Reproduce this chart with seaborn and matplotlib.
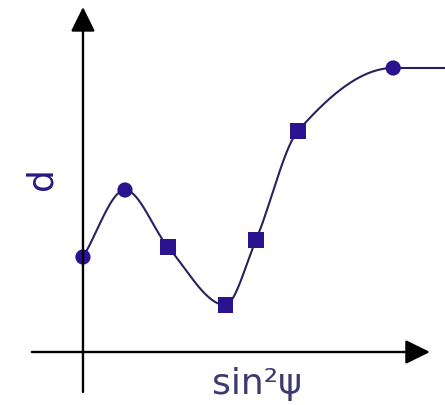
import numpy as np
import pandas as pd
import matplotlib
matplotlib.use("Agg")
import matplotlib.pyplot as plt
import seaborn as sns

# Measured lattice spacing d against sin^2(psi)
sin2psi = [0.0, 0.12, 0.243, 0.406, 0.494, 0.614, 0.886]
d_spacing = [0.95, 1.62, 1.05, 0.47, 1.12, 2.21, 2.84]
point_kind = ["circle", "circle", "square", "square", "square", "square", "circle"]

x_label = "sin²ψ"
y_label = "d"

MARKER_COLOR = "#2b1390"
LINE_COLOR = "#27235a"
LABEL_COLOR = "#2a1a80"
XLABEL_COLOR = "#3c3a6e"


def pchip(x, y, xs, start_slope=None, end_slope=None):
    """Shape-preserving piecewise cubic Hermite interpolation."""
    x = np.asarray(x, float)
    y = np.asarray(y, float)
    h = np.diff(x)
    delta = np.diff(y) / h
    n = len(x)
    m = np.zeros(n)
    for k in range(1, n - 1):
        if delta[k - 1] * delta[k] > 0:
            w1 = 2 * h[k] + h[k - 1]
            w2 = h[k] + 2 * h[k - 1]
            m[k] = (w1 + w2) / (w1 / delta[k - 1] + w2 / delta[k])
    m[0] = delta[0] if start_slope is None else start_slope
    m[-1] = delta[-1] if end_slope is None else end_slope
    idx = np.clip(np.searchsorted(x, xs) - 1, 0, n - 2)
    t = (xs - x[idx]) / h[idx]
    h00 = 2 * t**3 - 3 * t**2 + 1
    h10 = t**3 - 2 * t**2 + t
    h01 = -2 * t**3 + 3 * t**2
    h11 = t**3 - t**2
    return (h00 * y[idx] + h10 * h[idx] * m[idx]
            + h01 * y[idx + 1] + h11 * h[idx] * m[idx + 1])


sns.set_theme(style="white")
plt.rcParams["font.family"] = ["DejaVu Sans"]

fig = plt.figure(figsize=(4.45, 4.06), dpi=100)
ax = fig.add_axes([0, 0, 1, 1])

x_lo, x_hi = -0.237, 1.034
y_lo, y_hi = -0.53, 3.53

# Smooth curve through the measurements, levelling off after the last one
xs = np.linspace(sin2psi[0], sin2psi[-1], 400)
ys = pchip(sin2psi, d_spacing, xs, end_slope=0.0)
tail_x = np.linspace(sin2psi[-1], x_hi, 20)
tail_y = np.full_like(tail_x, d_spacing[-1])
curve = pd.DataFrame({"x": np.concatenate([xs, tail_x]),
                      "y": np.concatenate([ys, tail_y])})
sns.lineplot(data=curve, x="x", y="y", ax=ax, color=LINE_COLOR,
             linewidth=1.5, sort=False, estimator=None)

points = pd.DataFrame({"x": sin2psi, "y": d_spacing, "kind": point_kind})
sns.scatterplot(data=points, x="x", y="y", style="kind",
                markers={"circle": "o", "square": "s"}, s=120,
                color=MARKER_COLOR, edgecolor=MARKER_COLOR, linewidth=0,
                legend=False, ax=ax, zorder=3)

# Coordinate axes with arrowheads
arrow = dict(arrowstyle="-|>,head_length=0.75,head_width=0.37",
             color="black", lw=1.7, mutation_scale=20, shrinkA=0, shrinkB=0)
ax.annotate("", xy=(0.991, 0), xytext=(-0.146, 0), arrowprops=arrow)
ax.annotate("", xy=(0, 3.45), xytext=(0, -0.40), arrowprops=arrow)

ax.text(-0.118, 1.74, y_label, rotation=90, ha="center", va="center",
        fontsize=26, color=LABEL_COLOR)
ax.text(0.497, -0.41, x_label, ha="center", va="baseline",
        fontsize=26, color=XLABEL_COLOR)

ax.set_xlim(x_lo, x_hi)
ax.set_ylim(y_lo, y_hi)
ax.set_axis_off()

fig.savefig("out.png", dpi=100, facecolor="white")
